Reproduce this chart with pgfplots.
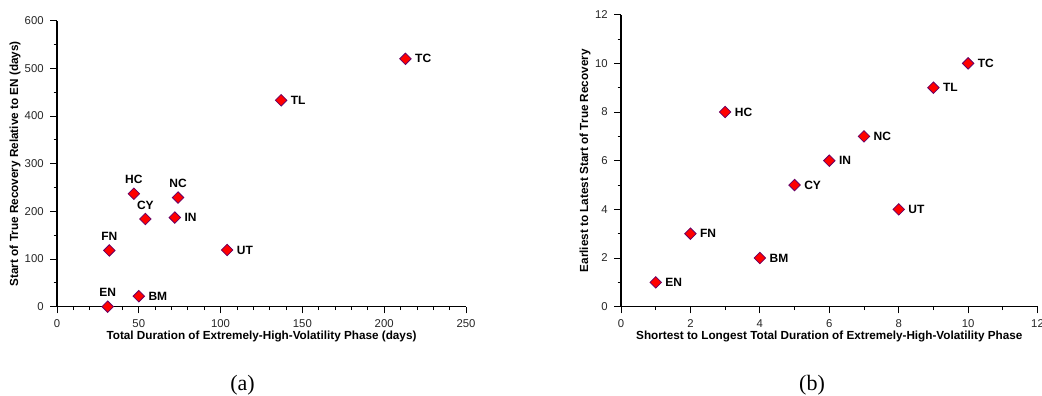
\documentclass[border=0pt]{standalone}
\usepackage{pgfplots}
\usepackage{pgfplotstable}
\pgfplotsset{compat=1.18}
\usepackage{fontspec}
\setmainfont{Liberation Sans}
\newfontfamily\seriffont{Liberation Serif}
\definecolor{mkedge}{RGB}{102,0,102}
\definecolor{mkfill}{RGB}{255,0,0}

% (a) points labelled above
\pgfplotstableread{
x y lab
31 0 EN
32 118 FN
47 237 HC
54 184 CY
74 229 NC
}\dataAabove

% (a) points labelled to the right
\pgfplotstableread{
x y lab
50 22 BM
72 187 IN
104 119 UT
137 433 TL
213 520 TC
}\dataAright

% (b)
\pgfplotstableread{
x y lab
1 1 EN
2 3 FN
3 8 HC
4 2 BM
5 5 CY
6 6 IN
7 7 NC
8 4 UT
9 9 TL
10 10 TC
}\dataB

\pgfplotsset{
  myaxis/.style={
    scale only axis,
    anchor=south west,
    axis lines*=left,
    axis line style={black, line width=0.8pt},
    tick align=outside,
    major tick length=5pt,
    minor tick length=2.5pt,
    tick style={black, line width=0.6pt},
    clip=false,
    /pgf/number format/assume math mode=true,
    tick label style={font=\fontsize{8.5}{8.5}\selectfont, text=black!85},
    xticklabel style={yshift=-1.5pt},
    yticklabel style={xshift=-1.5pt},
    every axis x label/.style={at={(axis description cs:0.5,0)}, anchor=center, yshift=-22.5pt,
      font=\bfseries\fontsize{8.8}{8.8}\selectfont},
  },
  myscatter/.style={
    only marks,
    mark=square*,
    mark size=3.05pt,
    mark options={rotate=45, fill=mkfill, draw=mkedge, line width=0.6pt},
    point meta=explicit symbolic,
    nodes near coords,
  },
  lblright/.style={every node near coord/.style={anchor=west, xshift=7pt, inner sep=0pt,
      font=\bfseries\fontsize{9}{9}\selectfont, text=black}},
  lblabove/.style={every node near coord/.style={anchor=south, yshift=7pt, inner sep=0pt,
      font=\bfseries\fontsize{9}{9}\selectfont, text=black}},
}

\begin{document}
\begin{tikzpicture}
\path[use as bounding box] (0,0) rectangle (781.5pt,297pt);

\begin{axis}[myaxis,
  at={(42.75pt,66.975pt)},
  width=306.75pt, height=214.5pt,
  xmin=0, xmax=250, ymin=0, ymax=600,
  xtick={0,50,...,250}, minor x tick num=4,
  ytick={0,100,...,600}, minor y tick num=1,
  xlabel={Total Duration of Extremely-High-Volatility Phase (days)},
  ylabel={Start of True Recovery Relative to EN (days)},
  every axis y label/.style={at={(axis description cs:0,0.5)}, xshift=-31.5pt, rotate=90, anchor=center,
    font=\bfseries\fontsize{8.8}{8.8}\selectfont},
]
\addplot[myscatter, lblabove] table[x=x, y=y, meta=lab] {\dataAabove};
\addplot[myscatter, lblright] table[x=x, y=y, meta=lab] {\dataAright};
\end{axis}

\begin{axis}[myaxis,
  at={(465.75pt,66.975pt)},
  width=312.4pt, height=219pt,
  xmin=0, xmax=12, ymin=0, ymax=12,
  xtick={0,2,...,12}, minor x tick num=1,
  ytick={0,2,...,12}, minor y tick num=1,
  xlabel={Shortest to Longest Total Duration of Extremely-High-Volatility Phase},
  ylabel={Earliest to Latest Start of True Recovery},
  every axis y label/.style={at={(axis description cs:0,0.5)}, xshift=-27pt, rotate=90, anchor=center,
    font=\bfseries\fontsize{8.8}{8.8}\selectfont},
]
\addplot[myscatter, lblright] table[x=x, y=y, meta=lab] {\dataB};
\end{axis}

\node[anchor=base, font=\seriffont\fontsize{16.5}{16.5}\selectfont, inner sep=0pt] at (181.9pt,3.75pt) {(a)};
\node[anchor=base, font=\seriffont\fontsize{16.5}{16.5}\selectfont, inner sep=0pt] at (609pt,3.75pt) {(b)};
\end{tikzpicture}
\end{document}
